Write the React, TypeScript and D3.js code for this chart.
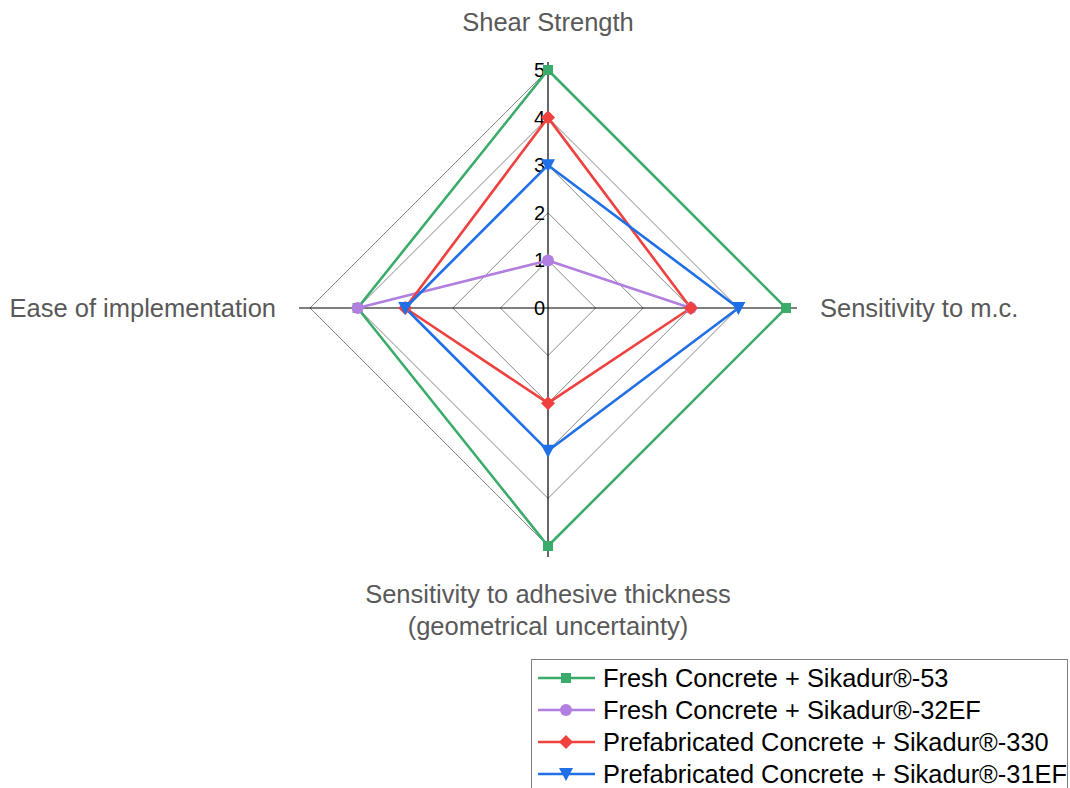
import React from 'react'
import * as d3 from 'd3'

const axesNames = ['Shear Strength', 'Sensitivity to m.c.', 'Sensitivity to adhesive thickness', 'Ease of implementation']
const ticks = [0, 1, 2, 3, 4, 5]

const seriesNames = [
  'Fresh Concrete + Sikadur®-53',
  'Fresh Concrete + Sikadur®-32EF',
  'Prefabricated Concrete + Sikadur®-330',
  'Prefabricated Concrete + Sikadur®-31EF',
]
const freshSika53 = [5, 5, 5, 4]
const freshSika32 = [1, 3, null, 4]
const prefabSika330 = [4, 3, 2, 3]
const prefabSika31 = [3, 4, 3, 3]
const seriesColors = ['#3aab6a', '#b07fe0', '#f0413e', '#1f6fe6']
const seriesMarkers = ['square', 'circle', 'diamond', 'triangle']

const W = 1070
const H = 788
const cx = 548
const cy = 308
const R = 238
const font = '"Liberation Sans", Arial, sans-serif'

export default function App() {
  const allSeries = [freshSika53, freshSika32, prefabSika330, prefabSika31]
  const r = d3.scaleLinear().domain([0, 5]).range([0, R])
  const angle = d3.scaleLinear().domain([0, axesNames.length]).range([0, 2 * Math.PI])
  const pt = (i: number, v: number): [number, number] => {
    const a = angle(i)
    return [cx + r(v) * Math.sin(a), cy - r(v) * Math.cos(a)]
  }

  const gridPath = (v: number) => {
    const pts = axesNames.map((_, i) => pt(i, v))
    return d3.line()([...pts, pts[0]]) || ''
  }

  // closed polygon; null values leave a gap like Excel does
  const seriesPath = (vals: (number | null)[]) => {
    const pts = [...vals, vals[0]].map((v, i) => ({ v, i: i % vals.length }))
    return (
      d3
        .line<{ v: number | null; i: number }>()
        .defined((d) => d.v != null)
        .x((d) => pt(d.i, d.v as number)[0])
        .y((d) => pt(d.i, d.v as number)[1])(pts) || ''
    )
  }

  const marker = (kind: string, x: number, y: number, color: string, key: string) => {
    if (kind === 'square') return <rect key={key} x={x - 5} y={y - 5} width={10} height={10} fill={color} />
    if (kind === 'circle') return <circle key={key} cx={x} cy={y} r={6} fill={color} />
    if (kind === 'diamond')
      return <path key={key} d={`M${x},${y - 7}L${x + 7},${y}L${x},${y + 7}L${x - 7},${y}Z`} fill={color} />
    return <path key={key} d={`M${x - 7},${y - 6}L${x + 7},${y - 6}L${x},${y + 7}Z`} fill={color} />
  }

  const ext = R + 11
  const legendY = d3.scaleLinear().domain([0, 1]).range([678, 710])

  return (
    <svg width={W} height={H} style={{ position: 'absolute', left: 0, top: 0, background: '#fff' }} fontFamily={font}>
      {/* grid */}
      {ticks.slice(1).map((t) => (
        <path key={t} d={gridPath(t)} fill="none" stroke="#878787" strokeWidth={1} />
      ))}
      {/* axes */}
      <line x1={cx - ext} x2={cx + ext} y1={cy} y2={cy} stroke="#000" strokeWidth={1.2} />
      <line x1={cx} x2={cx} y1={cy - R - 8} y2={cy + ext} stroke="#000" strokeWidth={1.2} />
      {/* tick labels */}
      {ticks.map((t) => (
        <text key={t} x={cx - 3} y={cy - r(t)} dy="0.35em" textAnchor="end" fontSize={20} fill="#000">
          {t}
        </text>
      ))}
      {/* series */}
      {allSeries.map((s, si) => (
        <path key={si} d={seriesPath(s)} fill="none" stroke={seriesColors[si]} strokeWidth={2.6} strokeLinejoin="round" />
      ))}
      {allSeries.map((s, si) =>
        s.map((v, i) => {
          if (v == null) return null
          const [x, y] = pt(i, v)
          return marker(seriesMarkers[si], x, y, seriesColors[si], `${si}-${i}`)
        }),
      )}
      {/* axis labels */}
      <text x={cx} y={22} dy="0.35em" textAnchor="middle" fontSize={25.5} fill="#595959">
        {axesNames[0]}
      </text>
      <text x={820} y={cy} dy="0.35em" textAnchor="start" fontSize={25.5} fill="#595959">
        {axesNames[1]}
      </text>
      <text x={cx} y={594} dy="0.35em" textAnchor="middle" fontSize={25.5} fill="#595959">
        {axesNames[2]}
      </text>
      <text x={cx} y={626} dy="0.35em" textAnchor="middle" fontSize={25.5} fill="#595959">
        (geometrical uncertainty)
      </text>
      <text x={276} y={cy} dy="0.35em" textAnchor="end" fontSize={25.5} fill="#595959">
        {axesNames[3]}
      </text>
      {/* legend */}
      <rect x={531.5} y={659.5} width={536} height={140} fill="#fff" stroke="#7f7f7f" strokeWidth={1} />
      {seriesNames.map((name, si) => {
        const y = legendY(si)
        return (
          <g key={name}>
            <line x1={538} x2={595} y1={y} y2={y} stroke={seriesColors[si]} strokeWidth={2.6} />
            {marker(seriesMarkers[si], 566, y, seriesColors[si], `lg-${si}`)}
            <text x={603} y={y} dy="0.35em" fontSize={25.4} fill="#000">
              {name}
            </text>
          </g>
        )
      })}
    </svg>
  )
}
